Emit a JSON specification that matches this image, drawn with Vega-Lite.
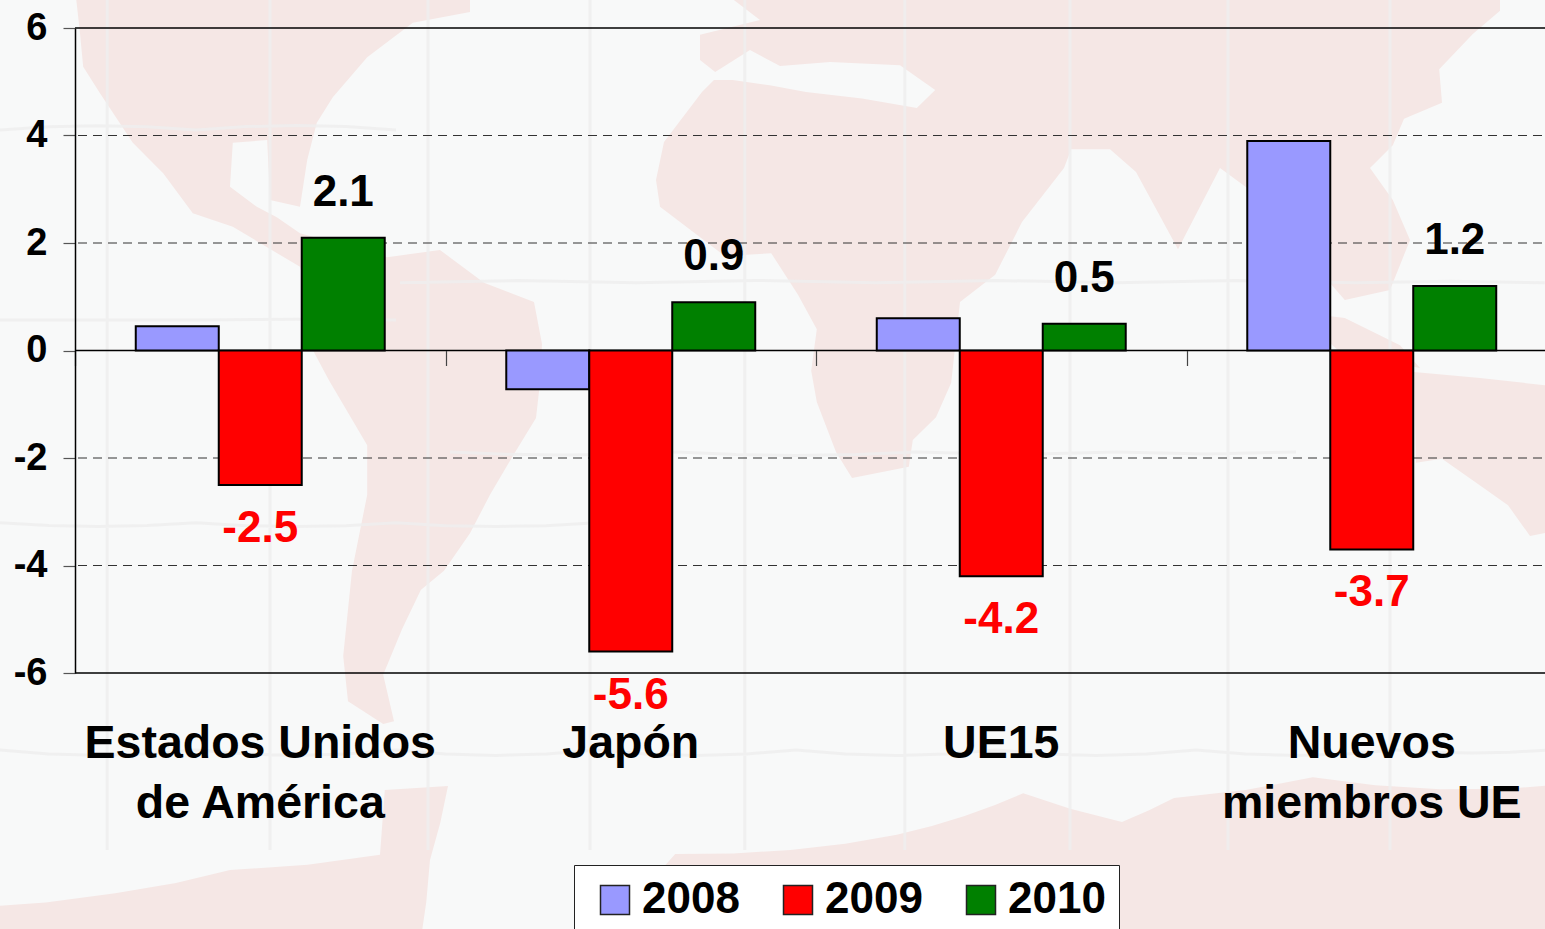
{
"$schema":"https://vega.github.io/schema/vega-lite/v6.json",
"width":1482,"height":645,
"autosize":{"type":"none"},
"padding":{"left":75,"top":28,"right":0,"bottom":256},
"background":"#f8f9f9",
"config":{"view":{"stroke":null},"font":"Liberation Sans"},
"datasets":{
"values":[
{"region":"Estados Unidos de América","year":"2008","value":0.45},
{"region":"Estados Unidos de América","year":"2009","value":-2.5,"label":"-2.5"},
{"region":"Estados Unidos de América","year":"2010","value":2.1,"label":"2.1"},
{"region":"Japón","year":"2008","value":-0.72},
{"region":"Japón","year":"2009","value":-5.6,"label":"-5.6"},
{"region":"Japón","year":"2010","value":0.9,"label":"0.9"},
{"region":"UE15","year":"2008","value":0.6},
{"region":"UE15","year":"2009","value":-4.2,"label":"-4.2"},
{"region":"UE15","year":"2010","value":0.5,"label":"0.5"},
{"region":"Nuevos miembros UE","year":"2008","value":3.9},
{"region":"Nuevos miembros UE","year":"2009","value":-3.7,"label":"-3.7"},
{"region":"Nuevos miembros UE","year":"2010","value":1.2,"label":"1.2"}
],
"frame":[{"y":6},{"y":-6},{"y":0}],
"gridlines":[{"y":4},{"y":2},{"y":-2},{"y":-4}],
"land":[
{"type":"Feature","geometry":{"type":"MultiPolygon","coordinates":[
[[[-90.1,45],[-40.75,45],[-40.75,42.25],[-47.9,40.9],[-53.6,36.6],[-57.9,31.6],[-59.9,28.4],[-61.1,23.75],[-62,17.9],[-65.75,18.75],[-66.1,26.25],[-70.4,25.9],[-70.75,20.4],[-67.4,17.9],[-64.9,16.6],[-62,14.6],[-51.1,11.6],[-44.5,12.5],[-39,8.4],[-32.75,6],[-31.75,0.75],[-32,-4.1],[-32.5,-8.5],[-35.4,-13.25],[-38.25,-18.1],[-40.75,-22.9],[-44,-27.6],[-46.9,-30],[-49.25,-34.9],[-51.6,-40.6],[-50.25,-46.4],[-51.6,-46.75],[-56,-43.9],[-56.6,-38.25],[-55.5,-27.6],[-53.6,-18.1],[-53.6,-11.9],[-58.4,-3.75],[-60.4,0],[-60.75,6.25],[-62,10.4],[-70.4,15.4],[-75.4,17.1],[-79.1,22.1],[-82.9,25.9],[-87,32.1],[-89.1,35.4],[-89.5,39.6],[-90.1,45]]],
[[[-9.4,45],[88,45],[88,42.4],[84.6,39.5],[80.4,35.1],[80.75,30.9],[76,28.9],[74.6,25.6],[71.75,22.75],[74.6,18.75],[76.75,13.75],[74.25,7.5],[68.6,6.25],[64.25,11.25],[56.75,20],[53,22.75],[47.75,12.6],[42.5,22.25],[39.25,25.1],[34.4,25.1],[33.5,22.75],[28.25,16],[24.9,9.4],[20.5,6],[19.4,-4.1],[17.5,-8.4],[14.6,-11.25],[14.1,-14.6],[7,-16],[5,-12.75],[2.6,-6.5],[1.9,-2.6],[2.6,2.6],[0.25,6.9],[-3.1,12.1],[-8.9,11.75],[-17,17.9],[-17.5,21.25],[-16.5,26],[-11.75,32.25],[-10.25,33.75],[-7.9,33.75],[1.25,32.25],[15.1,30.25],[17.4,32.5],[13,35.6],[4.25,36],[-2,35.5],[-5.75,37.5],[-10.1,34.75],[-12,36.25],[-12,39.4],[-4.5,41.25],[-9.4,45]]],
[[[62.4,4.75],[68.6,4],[75.5,0.6],[78,-2.25],[68,-0.25],[62.4,4.75]]],
[[[77.25,-2.75],[85.5,-3.5],[93.6,-4.4],[96.75,-4.4],[96.75,-22.25],[91.75,-23.25],[89,-19.4],[85.6,-17],[80.75,-13.6],[77.5,-14.1],[77.25,-2.75]]],
[[[-24.5,-74.4],[-20.9,-68.75],[-15.1,-63],[12.6,-60.6],[28.4,-55.4],[40.75,-59],[47.25,-56],[64.6,-53.4],[96.75,-54.25],[96.75,-74.4],[-24.5,-74.4]]],
[[[-103.25,-69.75],[-85.1,-67.9],[-70.75,-65],[-52,-63.1],[-51.4,-55],[-43.5,-54.5],[-45.75,-63.75],[-47,-74.4],[-103.25,-74.4],[-103.25,-69.75]]]
]}}
],
"graticule":[
{"type":"Feature","geometry":{"type":"MultiLineString","coordinates":[
[[-86.1,43.75],[-86.1,-62.5]],[[-65.75,43.75],[-65.75,-62.5]],[[-46,43.75],[-46,-62.5]],[[-25.75,43.75],[-25.75,-62.5]],[[-6.4,43.75],[-6.4,-62.5]],[[13.6,43.75],[13.6,-62.5]],[[34.25,43.75],[34.25,-62.5]],[[54,43.75],[54,-62.5]],[[74.25,43.75],[74.25,-62.5]],
[[-49.5,8.4],[-20,8.4],[10,8.4],[40,8.4],[70,8.4],[93.6,8.4]],
[[-43.25,-12.75],[-15,-12.75],[15,-12.75],[40,-12.75],[62.5,-12.75]],
[[-99.5,27.5],[-75,27.5],[-50,27.5]],
[[-99.5,3.75],[-75,3.75],[-50,3.75]],
[[-99.5,-21.6],[-75,-21.6],[-50,-21.6],[-25,-21.6]],
[[-99.5,-50],[-75,-50],[-50,-50],[-25,-50],[0,-50],[25,-50],[50,-50],[75,-50],[94,-50]]
]}}
]
},
"layer":[
{"data":{"name":"land"},"mark":{"type":"geoshape","fill":"#f5e7e5","stroke":null,"clip":false},
"projection":{"type":"equirectangular","scale":458.37,"translate":[721,322]}},
{"data":{"name":"graticule"},"mark":{"type":"geoshape","filled":false,"stroke":"#efefef","strokeWidth":3,"opacity":0.8,"clip":false},
"projection":{"type":"equirectangular","scale":458.37,"translate":[721,322]}},
{"data":{"name":"gridlines"},"mark":{"type":"rule","stroke":"#333","strokeWidth":1,"strokeDash":[9,6]},
"encoding":{"y":{"field":"y","type":"quantitative","title":null,"scale":{"domain":[-6,6],"nice":false},
"axis":{"values":[-6,-4,-2,0,2,4,6],"grid":false,"zindex":1,"domainColor":"#000","domainWidth":1.5,"tickColor":"#555","tickSize":12,"tickWidth":1.2,"labelFontSize":38,"labelFontWeight":"bold","labelColor":"#000","labelPadding":16,"labelBaseline":"middle","labelExpr":"''+datum.value"}}}},
{"data":{"name":"frame"},"mark":{"type":"rule","stroke":"#000","strokeWidth":1.3},
"encoding":{"y":{"field":"y","type":"quantitative","title":null}}},
{"data":{"name":"values"},"mark":{"type":"tick","opacity":0},
"encoding":{
"x":{"field":"region","type":"nominal","sort":null,"title":null,"scale":{"paddingInner":0,"paddingOuter":0},
"axis":{"orient":"bottom","offset":-322.5,"labels":false,"domain":false,"ticks":true,"tickBand":"extent","tickColor":"#444","tickSize":15,"tickWidth":1.2,"grid":false,"zindex":1}},
"y":{"field":"value","type":"quantitative","title":null}}},
{"data":{"name":"values"},"mark":{"type":"bar","stroke":"#000","strokeWidth":2},
"encoding":{
"x":{"field":"region","type":"nominal","sort":null,"title":null,
"scale":{"paddingInner":0.328,"paddingOuter":0.164},
"axis":{"orient":"bottom","zindex":1,"domain":false,"ticks":false,"labelAngle":0,"labelFontSize":46.5,"labelFontWeight":"bold","labelColor":"#000","labelPadding":47,"labelLineHeight":60,"labelBaseline":"top","labelLimit":600,
"labelExpr":"datum.value=='Estados Unidos de América'?['Estados Unidos','de América']:datum.value=='Nuevos miembros UE'?['Nuevos','miembros UE']:datum.value"}},
"xOffset":{"field":"year","type":"nominal","sort":null,"scale":{"domain":["2008","2009","2010"],"paddingInner":0,"paddingOuter":0}},
"y":{"field":"value","type":"quantitative","title":null},
"color":{"field":"year","type":"nominal","scale":{"domain":["2008","2009","2010"],"range":["#9999ff","#ff0000","#008000"]},
"legend":{"title":null,"orient":"none","legendX":499,"legendY":837,"direction":"horizontal","columns":3,"fillColor":"#ffffff","strokeColor":"#222","padding":13,"symbolType":"square","symbolSize":841,"symbolOffset":6,"symbolStrokeColor":"#222","symbolStrokeWidth":1.5,"symbolOpacity":1,"labelFontSize":44,"labelFontWeight":"bold","labelColor":"#000","labelOffset":5,"columnPadding":30,"rowPadding":0}}}},
{"data":{"name":"values"},"mark":{"type":"text","fontSize":44,"fontWeight":"bold","baseline":"middle","align":"center"},
"transform":[{"filter":"datum.label && datum.value>0"}],
"encoding":{
"x":{"field":"region","type":"nominal","sort":null,"scale":{"type":"band","paddingInner":0.328,"paddingOuter":0.164},"axis":null},
"xOffset":{"field":"year","type":"nominal","sort":null,"scale":{"type":"band","domain":["2008","2009","2010"],"paddingInner":0,"paddingOuter":0}},
"y":{"field":"value","type":"quantitative","title":null},
"text":{"field":"label"},"color":{"value":"#000"},"yOffset":{"value":-45}}},
{"data":{"name":"values"},"mark":{"type":"text","fontSize":44,"fontWeight":"bold","baseline":"middle","align":"center"},
"transform":[{"filter":"datum.label && datum.value<0"}],
"encoding":{
"x":{"field":"region","type":"nominal","sort":null,"scale":{"type":"band","paddingInner":0.328,"paddingOuter":0.164},"axis":null},
"xOffset":{"field":"year","type":"nominal","sort":null,"scale":{"type":"band","domain":["2008","2009","2010"],"paddingInner":0,"paddingOuter":0}},
"y":{"field":"value","type":"quantitative","title":null},
"text":{"field":"label"},"color":{"value":"#ff0000"},"yOffset":{"value":44}}}
],
"resolve":{"scale":{"x":"independent","xOffset":"independent"},"axis":{"x":"independent"}}
}
